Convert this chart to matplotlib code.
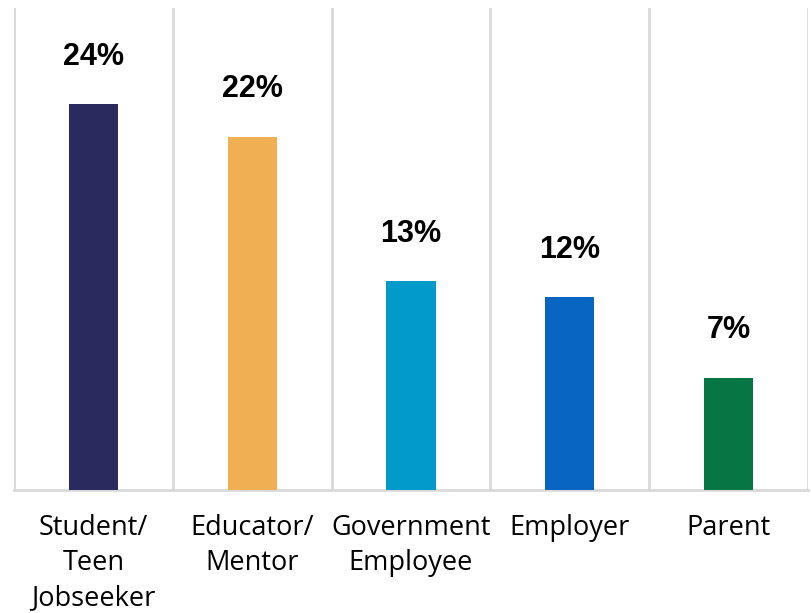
import numpy as np
import matplotlib
matplotlib.use("Agg")
import matplotlib.pyplot as plt

categories = ["Student/\nTeen\nJobseeker", "Educator/\nMentor", "Government\nEmployee",
              "Employer", "Parent"]
values = [24, 22, 13, 12, 7]
colors = ["#2b2a5f", "#f0af52", "#0299cb", "#0866c2", "#087545"]


def main():
    fig = plt.figure(figsize=(8.12, 6.13), dpi=100)
    ax = fig.add_axes([14 / 812, (613 - 490) / 613, 794 / 812, 482 / 613])

    x = np.arange(len(categories))
    bars = ax.bar(x, values, width=0.31, color=colors, zorder=3)

    for b, v in zip(bars, values):
        ax.annotate(f"{v}%", (b.get_x() + b.get_width() / 2, v),
                    xytext=(0, 34), textcoords="offset points",
                    ha="center", va="center", fontsize=22, fontweight="bold",
                    family="Liberation Sans", color="black")

    # vertical separators between categories
    for xb in np.arange(-0.5, len(categories) + 0.5, 1):
        ax.axvline(xb, color="#d9d9d9", lw=2, zorder=1)

    ax.set_xlim(-0.5, len(categories) - 0.5)
    ax.set_ylim(0, 30)
    for s in ["top", "left", "right"]:
        ax.spines[s].set_visible(False)
    ax.spines["bottom"].set_color("#d9d9d9")
    ax.spines["bottom"].set_linewidth(2)
    ax.set_yticks([])
    ax.set_xticks(x)
    ax.set_xticklabels(categories, fontsize=19.5, family="Open Sans",
                       linespacing=1.35, color="black")
    ax.tick_params(axis="x", length=0, pad=17)

    fig.savefig("out.png", dpi=100)


if __name__ == "__main__":
    main()
